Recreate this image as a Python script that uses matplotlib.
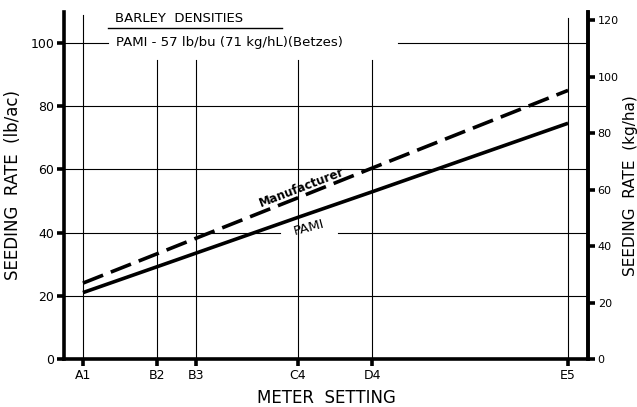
"""Barley seeding rate vs meter setting (PAMI vs manufacturer)."""

import matplotlib
matplotlib.use("Agg")
import matplotlib.pyplot as plt

# meter settings and their position on the (nonlinear) setting scale
settings = ["A1", "B2", "B3", "C4", "D4", "E5"]
setting_pos = [0.0, 15.3, 23.3, 44.3, 59.6, 100.0]

# seeding rate (lb/ac)
pami_rate = [21.0, 29.2, 33.5, 44.8, 52.9, 74.6]
manufacturer_rate = [24.0, 33.3, 38.2, 51.0, 60.4, 85.0]

left_ticks = [0, 20, 40, 60, 80, 100]
right_ticks = [0, 20, 40, 60, 80, 100, 120]
LB_TO_KG = 1.12

XMIN, XMAX = -3.9, 104.1
YMAX = 109.8

fig = plt.figure(figsize=(6.37, 4.07), dpi=100)
ax = fig.add_axes([0.1005, 0.118, 0.8225, 0.8525])
ax.set_xlim(XMIN, XMAX)
ax.set_ylim(0, YMAX)

grid_kw = dict(color="black", lw=0.8, zorder=1)
# horizontal grid lines
for y in [20, 60, 80]:
    ax.plot([XMIN, XMAX], [y, y], **grid_kw)
ax.plot([XMIN, 5.2], [100, 100], **grid_kw)
ax.plot([64.9, XMAX], [100, 100], **grid_kw)
ax.plot([XMIN, 40.6], [40, 40], **grid_kw)
ax.plot([52.6, XMAX], [40, 40], **grid_kw)
# vertical grid lines
for name, x in zip(settings, setting_pos):
    top = {"A1": 108.9, "E5": 107.9}.get(name, 94.6)
    ax.plot([x, x], [0, top], **grid_kw)

ax.plot(setting_pos, pami_rate, color="black", lw=2.6, solid_capstyle="butt", zorder=3)
ax.plot(setting_pos, manufacturer_rate, color="black", lw=2.6,
        dashes=(6.0, 2.3), dash_capstyle="butt", zorder=3)

ax.text(45.2, 54.3, "Manufacturer", rotation=21, ha="center", va="center",
        fontsize=8.5, fontweight="bold", zorder=4)
ax.text(46.6, 41.6, "PAMI", rotation=15, ha="center", va="center",
        fontsize=9.5, zorder=4)

ax.text(6.6, 107.9, "BARLEY  DENSITIES", ha="left", va="center", fontsize=9.5)
ax.plot([5.2, 41.0], [104.6, 104.6], color="black", lw=1.0)
ax.text(6.8, 100.3, "PAMI - 57 lb/bu (71 kg/hL)(Betzes)", ha="left", va="center",
        fontsize=9.5)

for side in ["left", "bottom", "right"]:
    ax.spines[side].set_linewidth(2.6)
ax.spines["top"].set_visible(False)

ax.set_xticks(setting_pos)
ax.set_xticklabels(settings)
ax.set_yticks(left_ticks)
ax.tick_params(axis="both", direction="out", length=5, width=2.6, labelsize=9, pad=2)
ax.set_xlabel("METER  SETTING", fontsize=12, labelpad=5)
ax.set_ylabel("SEEDING  RATE  (lb/ac)", fontsize=12, labelpad=6)

ax2 = ax.twinx()
ax2.set_ylim(0, YMAX * LB_TO_KG)
ax2.set_yticks(right_ticks)
ax2.spines["top"].set_visible(False)
ax2.spines["right"].set_linewidth(2.6)
ax2.spines["left"].set_visible(False)
ax2.spines["bottom"].set_visible(False)
ax2.tick_params(axis="y", direction="out", length=5, width=2.6, labelsize=8, pad=2)
ax2.set_ylabel("SEEDING  RATE  (kg/ha)", fontsize=11, labelpad=3)

fig.savefig("out.png", dpi=100)
